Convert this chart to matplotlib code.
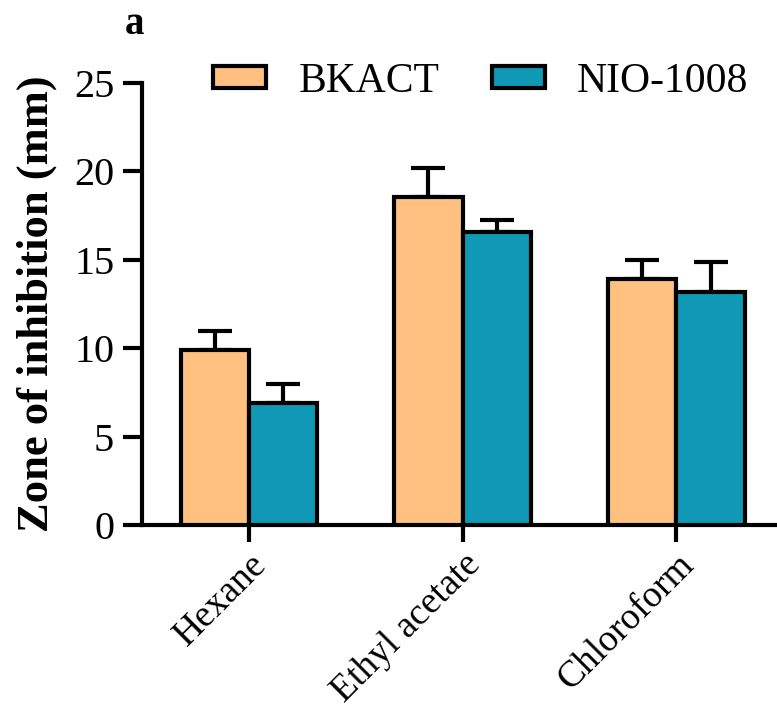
import numpy as np
import matplotlib
matplotlib.use("Agg")
import matplotlib.pyplot as plt
import matplotlib.transforms as mtransforms

plt.rcParams['font.family'] = ['Liberation Serif', 'DejaVu Serif']

solvents = ["Hexane", "Ethyl acetate", "Chloroform"]
bkact = [9.9, 18.55, 13.9]
bkact_err = [1.1, 1.65, 1.1]
nio = [6.9, 16.55, 13.2]
nio_err = [1.1, 0.7, 1.65]
series_names = ["BKACT", "NIO-1008"]

fig = plt.figure(figsize=(7.77, 7.08), dpi=100)
ax = fig.add_axes([0.1828, 0.2585, 0.817, 0.6243])

x = np.arange(len(solvents))
w = 0.32
lw = 3.0

for vals, errs, off, col, name in [(bkact, bkact_err, -w / 2, '#FFC080', series_names[0]),
                                   (nio, nio_err, w / 2, '#1099B4', series_names[1])]:
    ax.bar(x + off, vals, width=w, color=col, edgecolor='black', linewidth=lw,
           label=name, zorder=3)
    ax.errorbar(x + off, vals, yerr=[[0] * len(vals), errs], fmt='none',
                ecolor='black', elinewidth=lw, capsize=12, capthick=lw, zorder=2)

ax.set_xlim(-0.5, 2.47)
ax.set_ylim(0, 25)
ax.set_yticks([0, 5, 10, 15, 20, 25])
ax.set_xticks(x)
ax.set_xticklabels(solvents, rotation=45, ha='right', rotation_mode='anchor')

# nudge the slanted labels a little to the left
shift = mtransforms.ScaledTranslation(-2 / 100, 2 / 100, fig.dpi_scale_trans)
for lab in ax.get_xticklabels():
    lab.set_transform(lab.get_transform() + shift)

for s in ['top', 'right']:
    ax.spines[s].set_visible(False)
for s in ['left', 'bottom']:
    ax.spines[s].set_linewidth(lw)
ax.tick_params(axis='y', length=14, width=lw, labelsize=29, pad=6)
ax.tick_params(axis='x', length=12, width=lw, labelsize=27, pad=4)

ax.set_ylabel('Zone of inhibition (mm)', fontsize=32, fontweight='bold', labelpad=12)

ax.legend(loc='center', bbox_to_anchor=(0.534, 1.003), ncol=2, frameon=False,
          fontsize=30, handlelength=1.27, handleheight=0.4, handletextpad=0.77,
          columnspacing=1.27)

fig.text(134 / 777, 1 - 25 / 708, 'a', fontsize=28, fontweight='bold', ha='center', va='center')

fig.savefig('out.png', dpi=100)
